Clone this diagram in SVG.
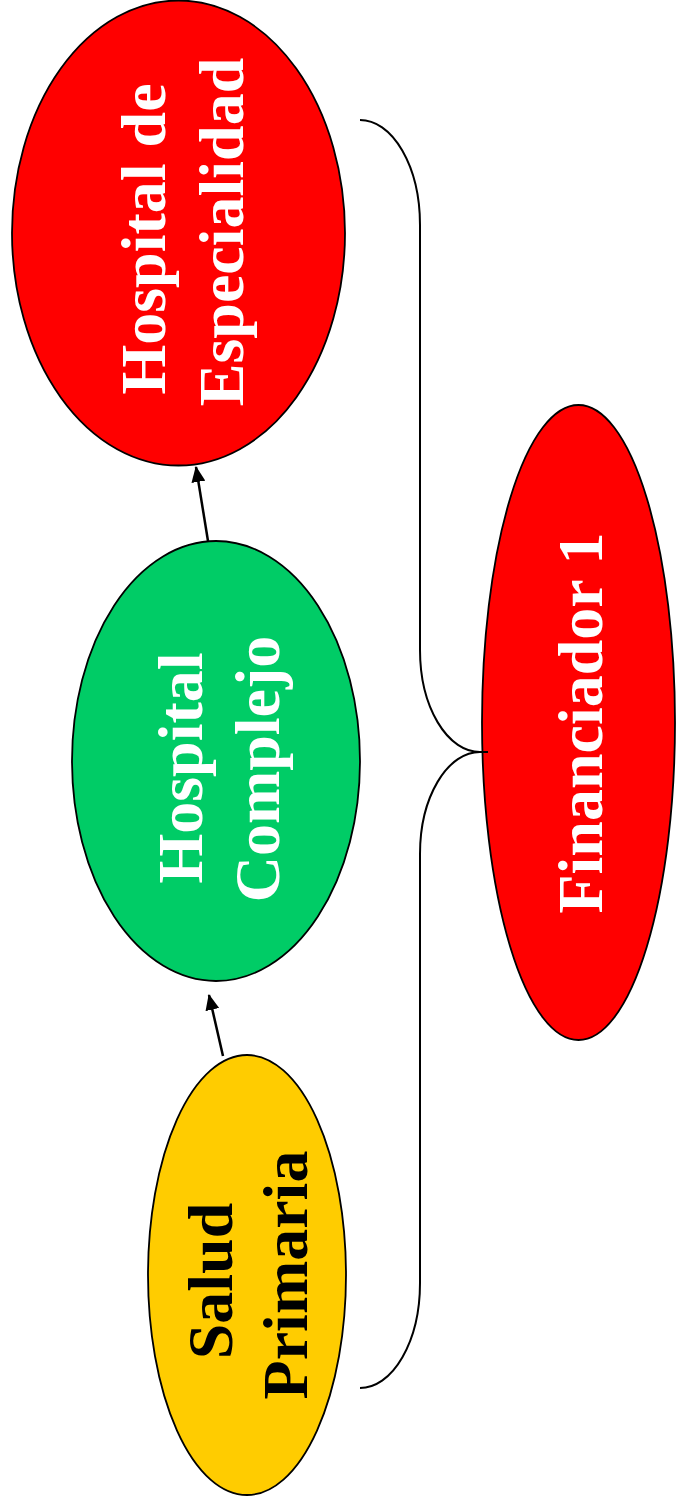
<svg xmlns="http://www.w3.org/2000/svg" width="676" height="1505" viewBox="0 0 676 1505">
<style>
.node{stroke:#000;stroke-width:1.8}
.lbl{font-family:"Liberation Serif","Times New Roman",serif;font-weight:bold;font-size:64px;text-anchor:middle}
.w{fill:#fff}
.k{fill:#000}
.conn{fill:none;stroke:#000;stroke-width:2.5}
.brace{fill:none;stroke:#000;stroke-width:2}
</style>
<defs>
<marker id="ah" markerUnits="userSpaceOnUse" markerWidth="16" markerHeight="14" refX="15" refY="7" orient="auto">
<path d="M0,0 L16,7 L0,14 Z" fill="#000"/>
</marker>
</defs>
<rect width="676" height="1505" fill="#fff"/>
<g id="hospital-especialidad">
<ellipse class="node" cx="178.5" cy="233" rx="166.5" ry="232.5" fill="#FF0000"/>
<text class="lbl w" transform="translate(165,239) rotate(-90)">Hospital de</text>
<text class="lbl w" transform="translate(243,232) rotate(-90)">Especialidad</text>
</g>
<g id="hospital-complejo">
<ellipse class="node" cx="216" cy="761" rx="144" ry="220" fill="#00CC66"/>
<text class="lbl w" transform="translate(202,768) rotate(-90)">Hospital</text>
<text class="lbl w" transform="translate(279,769) rotate(-90)">Complejo</text>
</g>
<g id="salud-primaria">
<ellipse class="node" cx="247" cy="1275" rx="99" ry="220" fill="#FFCC00"/>
<text class="lbl k" transform="translate(232,1281) rotate(-90)">Salud</text>
<text class="lbl k" transform="translate(307,1275) rotate(-90)">Primaria</text>
</g>
<g id="financiador-1">
<ellipse class="node" cx="578.5" cy="722.5" rx="96.5" ry="317.5" fill="#FF0000"/>
<text class="lbl w" transform="translate(602,723) rotate(-90)">Financiador 1</text>
</g>
<g id="connectors">
<line class="conn" x1="208" y1="541" x2="196" y2="467" marker-end="url(#ah)"/>
<line class="conn" x1="223" y1="1056" x2="209" y2="995" marker-end="url(#ah)"/>
<path class="brace" d="M360,120 A60,105 0 0 1 420,225 L420,650 A60,102 0 0 0 480,752 L488,752 M480,752 A60,102 0 0 0 420,854 L420,1283 A60,105 0 0 1 360,1388"/>
</g>
</svg>
